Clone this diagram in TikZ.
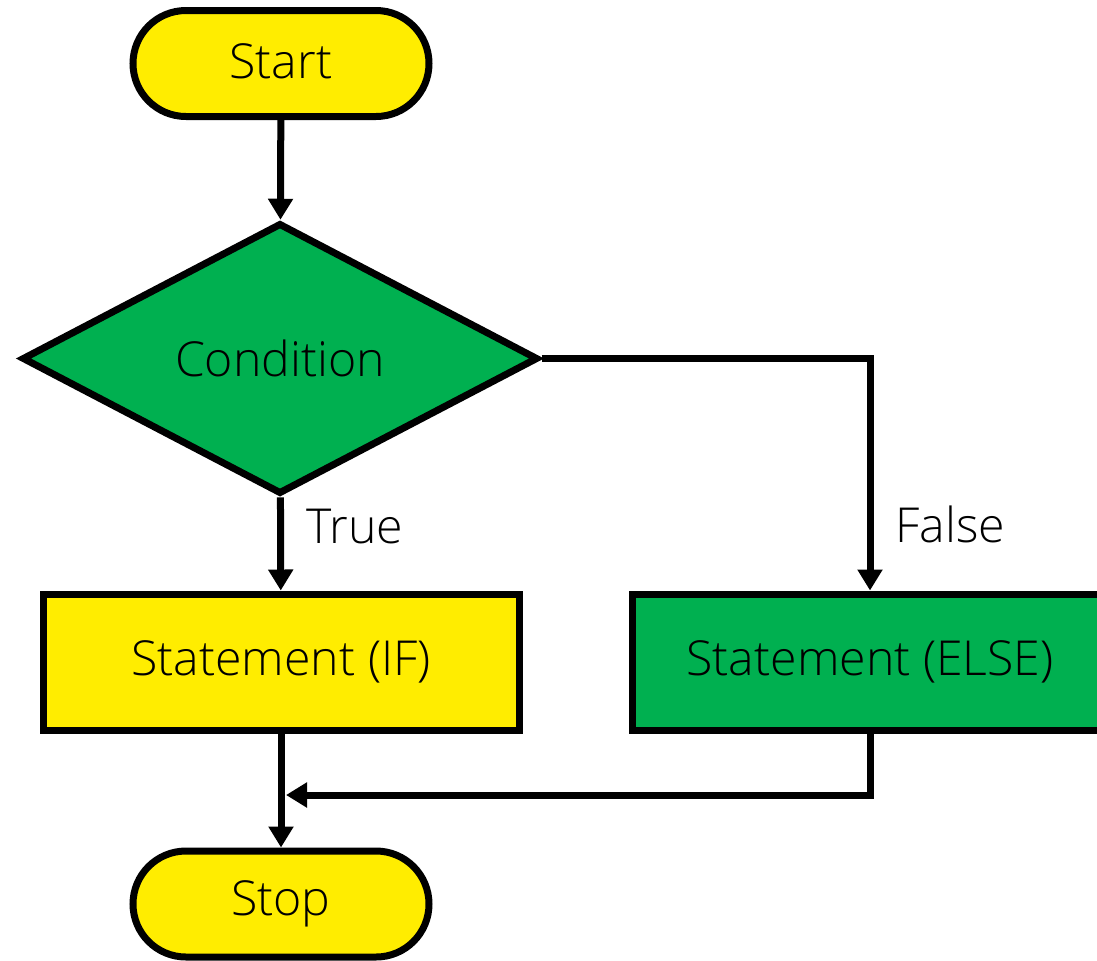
\documentclass[tikz,border=0pt]{standalone}
\usepackage{fontspec}
\IfFontExistsTF{Open Sans Light}{\setmainfont{Open Sans Light}}{\setmainfont{Open Sans}}
\usetikzlibrary{shapes.geometric,shapes.misc,arrows.meta}
\definecolor{gelb}{RGB}{255,237,0}
\definecolor{gruen}{RGB}{0,176,80}
\begin{document}
\begin{tikzpicture}[x=0.5pt,y=-0.5pt,line width=3.5pt,
	font=\fontsize{24.1}{29}\selectfont,
	pfeil/.style={-{Triangle[length=10.5pt,width=12pt]}},
	ende/.style={draw,fill=gelb,rounded rectangle,minimum width=148pt,minimum height=53pt,inner sep=0pt},
	anweisung/.style={draw,rectangle,minimum width=238pt,minimum height=68pt,inner sep=0pt}]
	\useasboundingbox (0,0) rectangle (1097,960);

	\node[ende] (start) at (281,63.5) {\raisebox{2pt}{Start}};
	\node[draw,fill=gruen,diamond,minimum width=258pt,minimum height=135.5pt,inner sep=0pt] (bed) at (280,358.5) {Condition};%Raute
	\node[anweisung,fill=gelb] (wenn) at (281,662) {Statement (IF)};
	\node[anweisung,fill=gruen] (sonst) at (870,662) {Statement (ELSE)};%rechts abgeschnitten
	\node[ende] (stop) at (281,904) {Stop};

	\node[anchor=base west,inner sep=0pt] (wahr) at (303,543) {True};
	\node[anchor=base west,inner sep=0pt] (falsch) at (892,542) {False};

	\coordinate (zus) at (281,795);%Zusammenfuehrung

	\draw[pfeil] (start) -- (bed);
	\draw[pfeil] (bed) -- (wenn);
	\draw[pfeil] (bed.east) -| (sonst.north);
	\draw[pfeil,shorten >=2.5pt] (sonst.south) |- (zus);
	\draw[pfeil] (wenn) -- (stop);

\end{tikzpicture}
\end{document}
